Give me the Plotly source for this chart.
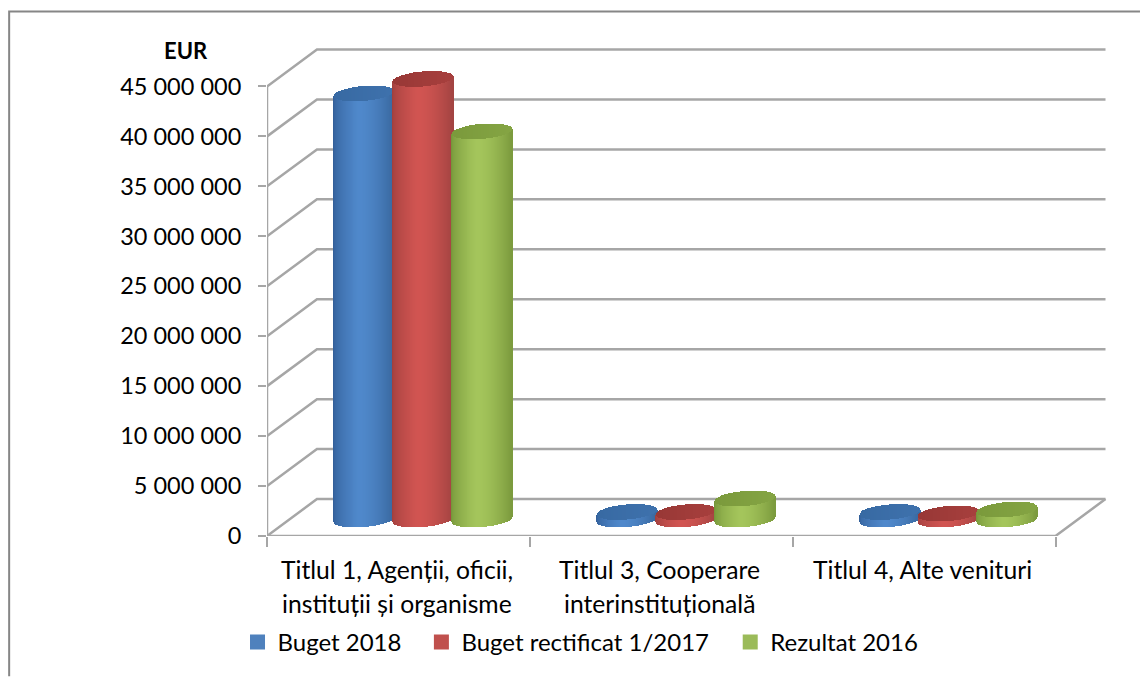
import numpy as np
import plotly.graph_objects as go

categories = [["Titlul 1, Agenții, oficii,", "instituții și organisme"],
              ["Titlul 3, Cooperare", "interinstituțională"],
              ["Titlul 4, Alte venituri"]]
series_names = ["Buget 2018", "Buget rectificat 1/2017", "Rezultat 2016"]
buget_2018 = [42650000, 750000, 750000]
buget_rectificat = [44100000, 750000, 600000]
rezultat_2016 = [38850000, 2100000, 1000000]
tick_vals = [0, 5e6, 10e6, 15e6, 20e6, 25e6, 30e6, 35e6, 40e6, 45e6]
tick_text = ["0", "5 000 000", "10 000 000", "15 000 000", "20 000 000", "25 000 000",
             "30 000 000", "35 000 000", "40 000 000", "45 000 000"]

W, H = 1140, 677
X0, CAT_W = 266.5, 263.0       # px of left axis, px per category
Y0, PX_PER_M = 536.5, 10.0     # px of zero line, px per million
TOP_PX, RIGHT_PX = 44.0, 1110.0
UX = 1 / CAT_W                 # category units per px
UY = 1e6 / PX_PER_M            # EUR per px
DEPTH_X, DEPTH_Y = 50 * UX, 37 * UY
MID_X, MID_Y = 24.5 * UX, 16.5 * UY
STEP, RX, RY, TILT = 59 * UX, 30 * UX, 7.5 * UY, 2.5 * UY
N = 62


def px_x(px):
    return (px - X0) / (RIGHT_PX - X0)


def px_y(py):
    return (Y0 - py) / (Y0 - TOP_PX)


GRID = "#a6a6a6"
shades = [
    {"edge": "#33609a", "light": "#5089cc", "right": "#39689f", "cap0": "#386aa3", "cap1": "#3f72ad", "leg": "#4f81bd"},
    {"edge": "#a0403e", "light": "#d25552", "right": "#a34442", "cap0": "#983836", "cap1": "#a8403e", "leg": "#c0504d"},
    {"edge": "#76963a", "light": "#a5c65c", "right": "#7c9b3e", "cap0": "#7b9a3c", "cap1": "#85a544", "leg": "#9bbb59"},
]


def rgb(h):
    return np.array([int(h[i:i + 2], 16) for i in (1, 3, 5)], float)


def mix(a, b, f):
    c = rgb(a) * (1 - f) + rgb(b) * f
    return "rgb(%d,%d,%d)" % tuple(c)


def body_color(t, s):
    if t < -0.15:
        return mix(s["edge"], s["light"], ((t + 1) / 0.85) ** 0.6)
    return mix(s["light"], s["right"], ((t + 0.15) / 1.15) ** 1.6)


fig = go.Figure()
all_values = [buget_2018, buget_rectificat, rezultat_2016]
t = np.linspace(-1, 1, N)
edge = np.sqrt(1 - t ** 2)
for si, vals in enumerate(all_values):
    sh = shades[si]
    bx, bb, bh, bc, cb, ch, cc, cx = [], [], [], [], [], [], [], []
    for ci, v in enumerate(vals):
        xc = ci + MID_X + (si - 1) * STEP
        x = xc + RX * t
        lower = MID_Y + TILT * t - RY * edge
        upper = v + MID_Y + TILT * t - RY * edge
        bx += list(x); bb += list(lower); bh += list(upper - lower)
        bc += [body_color(q, sh) for q in t]
        cx += list(x); cb += list(upper); ch += list(2 * RY * edge)
        cc += [mix(sh["cap0"], sh["cap1"], (q + 1) / 2) for q in t]
    w = 2 * RX / (N - 1) * 1.25
    fig.add_bar(x=bx, y=bh, base=bb, width=w, marker=dict(color=bc, line=dict(width=0)),
                showlegend=False, hoverinfo="skip")
    fig.add_bar(x=cx, y=ch, base=cb, width=w, marker=dict(color=cc, line=dict(width=0)),
                showlegend=False, hoverinfo="skip")

# legend entries, each in its own legend so that it can be placed exactly
legend_x_px = [247, 431, 740]
legend_names = ["legend", "legend2", "legend3"]
for si, name in enumerate(series_names):
    fig.add_scatter(x=[None], y=[None], mode="markers", name=name, legend=legend_names[si],
                    marker=dict(symbol="square", size=15, color=shades[si]["leg"]))

x_lo, x_hi = -0.5, -0.5 + (RIGHT_PX - X0) * UX
y_hi = (Y0 - TOP_PX) * UY
xa, xb = -0.5, 2.5
shapes = []
for v in tick_vals:
    shapes.append(dict(type="path", layer="below", xref="x", yref="y",
                       path=f"M {xa} {v} L {xa + DEPTH_X} {v + DEPTH_Y} L {xb + DEPTH_X} {v + DEPTH_Y}",
                       line=dict(color=GRID, width=2.5)))
shapes.append(dict(type="path", layer="below", xref="x", yref="y",
                   path=f"M {xa} {tick_vals[-1]} L {xa} 0 L {xb} 0 L {xb + DEPTH_X} {DEPTH_Y}",
                   line=dict(color=GRID, width=2.5)))
shapes.append(dict(type="path", xref="paper", yref="paper",
                   path=f"M {px_x(8.5)} {px_y(H)} L {px_x(8.5)} {px_y(11.5)} L {px_x(W)} {px_y(11.5)}",
                   line=dict(color="#868686", width=2)))

annotations = [dict(text="<b>EUR</b>", xref="paper", yref="paper", x=px_x(185), y=px_y(51),
                    showarrow=False, font=dict(size=22), xanchor="center", yanchor="middle")]
line_px = [570, 604]
for ci, lines in enumerate(categories):
    for li, text in enumerate(lines):
        annotations.append(dict(text=text, xref="x", yref="paper", x=ci, y=px_y(line_px[li]),
                                showarrow=False, font=dict(size=24.7), xanchor="center", yanchor="middle",
                                xshift=-1.5))

layout_legends = {}
for si, ln in enumerate(legend_names):
    layout_legends[ln] = dict(orientation="h", x=px_x(legend_x_px[si]), y=px_y(643), xanchor="left", yanchor="middle",
                              bgcolor="rgba(0,0,0,0)", font=dict(size=24), indentation=-10)

fig.update_layout(
    width=W, height=H, autosize=False, barmode="overlay", bargap=0,
    margin=dict(l=X0, r=W - RIGHT_PX, t=TOP_PX, b=H - Y0, pad=0),
    paper_bgcolor="white", plot_bgcolor="white",
    font=dict(family="Lato, Carlito, sans-serif", color="#000000", size=22),
    showlegend=True,
    xaxis=dict(range=[x_lo, x_hi], tickvals=[], showticklabels=False, showgrid=False, zeroline=False, showline=False,
               minor=dict(tickvals=[-0.5, 0.5, 1.5, 2.5], ticks="outside", ticklen=10, tickwidth=2, tickcolor=GRID, showgrid=False)),
    yaxis=dict(range=[0, y_hi], tickvals=tick_vals, ticktext=tick_text, ticks="outside", ticklen=8, tickwidth=2,
               tickcolor=GRID, showgrid=False, zeroline=False, showline=False, ticklabelstandoff=12,
               tickfont=dict(size=23.5)),
    shapes=shapes, annotations=annotations, **layout_legends,
)
fig.write_html("out.html", config={"displayModeBar": False},
               post_script="document.body.style.margin='0';document.documentElement.style.overflow='hidden';")
